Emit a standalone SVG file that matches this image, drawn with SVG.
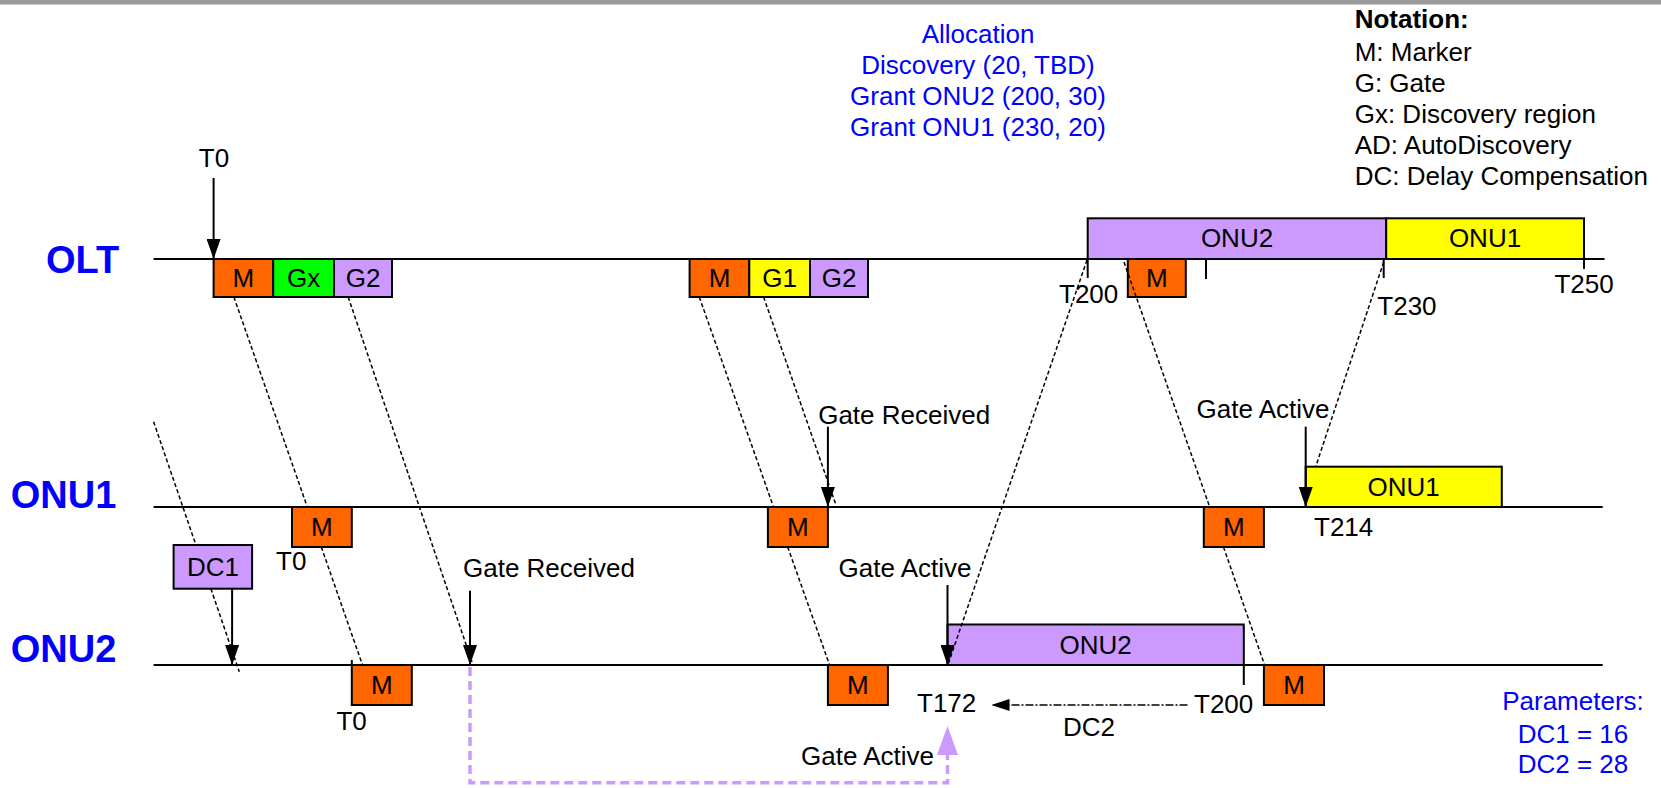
<svg xmlns="http://www.w3.org/2000/svg" width="1661" height="788" viewBox="0 0 1661 788">
<defs>
<style>
text{font-family:"Liberation Sans",Arial,sans-serif;font-size:26px;fill:#000}
.lbl{font-weight:bold;font-size:38px;fill:#0000FF}
.blue{fill:#0000FF}
.c{text-anchor:middle}
.tl{stroke:#000;stroke-width:2;fill:none}
.box{stroke:#000;stroke-width:2}
.m{fill:#FF6600}
.gx{fill:#00FF00}
.g{fill:#CC99FF}
.y{fill:#FFFF00}
.dot{stroke:#000;stroke-width:1.5;stroke-dasharray:4 2.5;fill:none}
.arr{stroke:#000;stroke-width:2;fill:none;marker-end:url(#ah)}
.dd{stroke:#000;stroke-width:1.5;stroke-dasharray:8 2 2 2;fill:none;marker-end:url(#ah2)}
.pd{stroke:#CC99FF;stroke-width:3.5;stroke-dasharray:9 5;fill:none}
</style>
<marker id="ah" markerUnits="userSpaceOnUse" markerWidth="20" markerHeight="14" viewBox="0 0 20 14" refX="20" refY="7" orient="auto"><path d="M0,0 L20,7 L0,14 z" fill="#000"/></marker>
<marker id="ah2" markerUnits="userSpaceOnUse" markerWidth="18" markerHeight="12" viewBox="0 0 18 12" refX="18" refY="6" orient="auto"><path d="M0,0 L18,6 L0,12 z" fill="#000"/></marker>
</defs>
<rect x="0" y="0" width="1661" height="4.5" fill="#999999"/>
<g id="timelines">
<line class="tl" x1="153.6" y1="259" x2="1604.5" y2="259"/>
<line class="tl" x1="153.6" y1="507" x2="1602.7" y2="507"/>
<line class="tl" x1="153.6" y1="665" x2="1602.7" y2="665"/>
<line class="tl" x1="1087.7" y1="259" x2="1087.7" y2="278"/>
<line class="tl" x1="1206" y1="259" x2="1206" y2="279"/>
<line class="tl" x1="1383.7" y1="259" x2="1383.7" y2="278"/>
<line class="tl" x1="1584" y1="259" x2="1584" y2="269"/>
<line class="tl" x1="1243.8" y1="665" x2="1243.8" y2="685"/>
<line class="tl" x1="351.8" y1="660" x2="351.8" y2="665"/>
</g>
<g id="labels">
<text class="lbl" x="46" y="273">OLT</text>
<text class="lbl" x="10.7" y="508">ONU1</text>
<text class="lbl" x="10.7" y="662">ONU2</text>
</g>
<g id="allocation">
<text class="blue c" x="978" y="43">Allocation</text>
<text class="blue c" x="978" y="74">Discovery (20, TBD)</text>
<text class="blue c" x="978" y="105">Grant ONU2 (200, 30)</text>
<text class="blue c" x="978" y="136">Grant ONU1 (230, 20)</text>
</g>
<g id="notation">
<text x="1354.7" y="28" font-weight="bold">Notation:</text>
<text x="1354.7" y="61">M: Marker</text>
<text x="1354.7" y="92">G: Gate</text>
<text x="1354.7" y="123">Gx: Discovery region</text>
<text x="1354.7" y="154">AD: AutoDiscovery</text>
<text x="1354.7" y="185">DC: Delay Compensation</text>
</g>
<g id="parameters">
<text class="blue c" x="1573" y="710">Parameters:</text>
<text class="blue c" x="1573" y="742.7">DC1 = 16</text>
<text class="blue c" x="1573" y="772.7">DC2 = 28</text>
</g>
<g id="olt-m1"><rect class="box m" x="213.6" y="259" width="59.6" height="38"/><text class="c" x="243.4" y="287">M</text></g>
<g id="olt-gx"><rect class="box gx" x="273.2" y="259" width="60.8" height="38"/><text class="c" x="303.6" y="287">Gx</text></g>
<g id="olt-g2a"><rect class="box g" x="334" y="259" width="58" height="38"/><text class="c" x="363" y="287">G2</text></g>
<g id="olt-m2"><rect class="box m" x="689.6" y="259" width="59.7" height="38"/><text class="c" x="719.5" y="287">M</text></g>
<g id="olt-g1"><rect class="box y" x="749.3" y="259" width="60.7" height="38"/><text class="c" x="779.6" y="287">G1</text></g>
<g id="olt-g2b"><rect class="box g" x="810" y="259" width="58" height="38"/><text class="c" x="839" y="287">G2</text></g>
<g id="olt-onu2"><rect class="box g" x="1087.7" y="218.3" width="298.5" height="40.7"/><text class="c" x="1237" y="247">ONU2</text></g>
<g id="olt-onu1"><rect class="box y" x="1386.2" y="218.3" width="197.8" height="40.7"/><text class="c" x="1485" y="247">ONU1</text></g>
<g id="olt-m3"><rect class="box m" x="1127.8" y="259" width="58" height="38"/><text class="c" x="1156.8" y="287">M</text></g>
<g id="onu1-m1"><rect class="box m" x="292" y="507" width="59.8" height="40"/><text class="c" x="321.9" y="536">M</text></g>
<g id="onu1-m2"><rect class="box m" x="767.9" y="507" width="60" height="40"/><text class="c" x="797.9" y="536">M</text></g>
<g id="onu1-m3"><rect class="box m" x="1203.8" y="507" width="60.1" height="40"/><text class="c" x="1233.9" y="536">M</text></g>
<g id="onu2-m1"><rect class="box m" x="351.8" y="665" width="60" height="40"/><text class="c" x="381.8" y="694">M</text></g>
<g id="onu2-m2"><rect class="box m" x="827.9" y="665" width="60" height="40"/><text class="c" x="857.9" y="694">M</text></g>
<g id="onu2-m3"><rect class="box m" x="1263.9" y="665" width="60.1" height="40"/><text class="c" x="1294" y="694">M</text></g>
<g id="dc1"><rect class="box g" x="173.6" y="545" width="78.5" height="43.7"/><text class="c" x="212.9" y="576">DC1</text></g>
<g id="onu2-grant"><rect class="box g" x="947.5" y="624.5" width="296.3" height="40.5"/><text class="c" x="1095.7" y="654">ONU2</text></g>
<g id="onu1-grant"><rect class="box y" x="1305.7" y="466.7" width="196.1" height="40.3"/><text class="c" x="1403.7" y="496">ONU1</text></g>
<g id="connectors">
<path class="dot" d="M153.6,421.7 L195.9,545 M210.9,588.7 L239.3,671.7"/>
<path class="dot" d="M233.9,297 L307.3,507 M321.3,547 L362.5,665"/>
<path class="dot" d="M348.2,297 L472,662"/>
<path class="dot" d="M699.3,297 L773.5,507 M787.7,547 L829.6,665"/>
<path class="dot" d="M763.6,297 L836,505"/>
<path class="dot" d="M1087,260 L948.5,663"/>
<path class="dot" d="M1124,262 L1209,505 M1223.5,547 L1264.6,665"/>
<path class="dot" d="M1383.7,262 L1315.7,466.7"/>
<line class="arr" x1="213.6" y1="178" x2="213.6" y2="259"/>
<line class="arr" x1="232.1" y1="588.7" x2="232.1" y2="665"/>
<line class="arr" x1="470" y1="590.7" x2="470" y2="665"/>
<line class="arr" x1="827.9" y1="426.7" x2="827.9" y2="507"/>
<line class="arr" x1="947.5" y1="585" x2="947.5" y2="665"/>
<line class="arr" x1="1305.7" y1="426.7" x2="1305.7" y2="507"/>
<line class="dd" x1="1187.5" y1="705" x2="991.5" y2="705"/>
<polyline class="pd" points="470,667 470,782.7 947.5,782.7 947.5,755"/>
<path d="M947.5,726 L958,755 L937,755 z" fill="#CC99FF"/>
</g>
<g id="times">
<text class="c" x="214" y="167">T0</text>
<text x="1059" y="302.7">T200</text>
<text x="1554.4" y="293">T250</text>
<text x="1377.3" y="315">T230</text>
<text x="276" y="570">T0</text>
<text x="336.4" y="730">T0</text>
<text x="463" y="576.7">Gate Received</text>
<text x="818.2" y="424">Gate Received</text>
<text x="838.6" y="576.7">Gate Active</text>
<text x="1196.6" y="418">Gate Active</text>
<text x="1314" y="536">T214</text>
<text x="917" y="712">T172</text>
<text x="1194" y="713">T200</text>
<text x="1063" y="736">DC2</text>
<text x="801" y="765">Gate Active</text>
</g>
</svg>
